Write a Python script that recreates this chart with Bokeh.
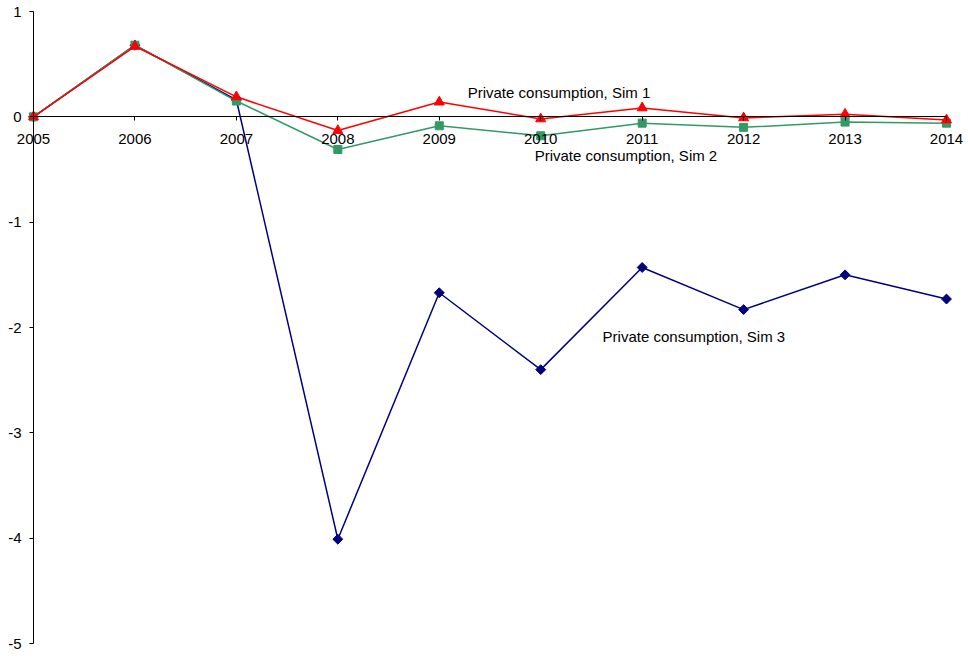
import math
from bokeh.plotting import figure
from bokeh.models import FixedTicker, Range1d, Label, PrintfTickFormatter
from bokeh.embed import file_html
from bokeh.resources import INLINE

years = [2005, 2006, 2007, 2008, 2009, 2010, 2011, 2012, 2013, 2014]
sim1 = [0.0, 0.67, 0.19, -0.13, 0.14, -0.02, 0.085, -0.01, 0.025, -0.03]
sim2 = [0.0, 0.68, 0.15, -0.31, -0.085, -0.18, -0.06, -0.10, -0.05, -0.06]
sim3 = [0.0, 0.68, 0.16, -4.01, -1.67, -2.40, -1.43, -1.83, -1.50, -1.73]
y_ticks = [-5, -4, -3, -2, -1, 0, 1]
labels = ["Private consumption, Sim 1", "Private consumption, Sim 2", "Private consumption, Sim 3"]

FONT = "Liberation Sans"

# layout: axes are placed inside a full-size frame so edge labels are not clipped
W, H = 964, 655
X0_PX, X1_PX = 33, 946     # pixel positions of first / last year
YT_PX, YB_PX = 11, 643     # pixel positions of y = 1 / y = -5
x_first, x_last = years[0], years[-1]
y_top, y_bot = y_ticks[-1], y_ticks[0]
ppx = (X1_PX - X0_PX) / (x_last - x_first)
ppy = (YB_PX - YT_PX) / (y_top - y_bot)
x_range = Range1d(x_first - X0_PX / ppx, x_last + (W - X1_PX) / ppx)
y_range = Range1d(y_bot - (H - YB_PX) / ppy, y_top + YT_PX / ppy)

p = figure(output_backend="svg", toolbar_location=None,
           frame_width=W, frame_height=H,
           x_range=x_range, y_range=y_range, min_border=0)
p.outline_line_color = None
p.grid.visible = False
p.background_fill_color = "white"

p.xaxis.fixed_location = 0
p.xaxis.bounds = (x_first, x_last)
p.xaxis.ticker = FixedTicker(ticks=years)
p.xaxis.major_label_standoff = 13

p.yaxis.fixed_location = x_first
p.yaxis.bounds = (y_bot, y_top)
p.yaxis.ticker = FixedTicker(ticks=y_ticks)
p.yaxis.formatter = PrintfTickFormatter(format="%d")
p.yaxis.major_label_standoff = 8

for ax in (p.xaxis, p.yaxis):
    ax.minor_tick_line_color = None
    ax.major_tick_out = 4
    ax.major_tick_in = 0
    ax.axis_line_color = "#000000"
    ax.major_tick_line_color = "#000000"
    ax.major_label_text_font = FONT
    ax.major_label_text_font_size = "15px"
    ax.major_label_text_color = "#000000"

# series: Sim 3 (bottom), Sim 2, Sim 1 (top)
p.line(years, sim3, line_color="#000080", line_width=1.5)
p.scatter(years, sim3, marker="square", size=7, angle=math.pi / 4,
          fill_color="#000080", line_color="#000080")

p.line(years, sim2, line_color="#339966", line_width=1.5)
p.scatter(years, sim2, marker="square", size=8, fill_color="#339966", line_color="#339966")

p.line(years, sim1, line_color="#FF0000", line_width=1.5)
p.scatter(years, sim1, marker="triangle", size=10, fill_color="#FF0000", line_color="#FF0000")

label_x = [2009.28, 2009.94, 2010.61]
label_y = [0.23, -0.37, -2.083]
for t, lx, ly in zip(labels, label_x, label_y):
    p.add_layout(Label(x=lx, y=ly, text=t, text_font=FONT, text_font_size="15px",
                       text_color="#000000", text_baseline="alphabetic", text_align="left"))

open("out.html", "w").write(file_html(p, INLINE))
